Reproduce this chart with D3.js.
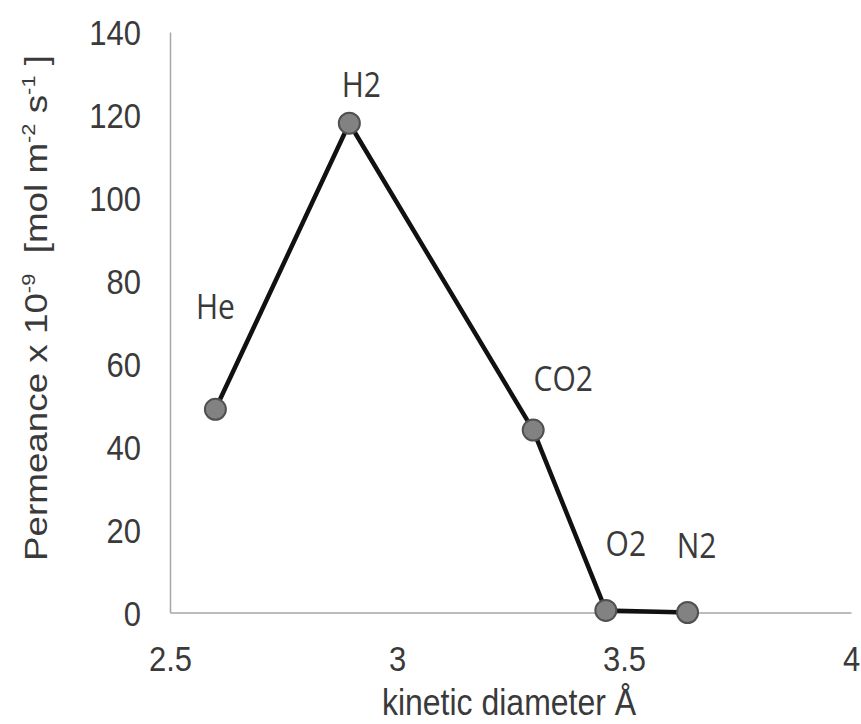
<!DOCTYPE html>
<html>
<head>
<meta charset="utf-8">
<script src="https://cdn.jsdelivr.net/npm/d3@7"></script>
<style>
  body { margin: 0; background: #fff; }
  svg { display: block; }
</style>
</head>
<body>
<svg id="chart"></svg>
<script>
const gases = ['He', 'H2', 'CO2', 'O2', 'N2']
const diameters = [2.6, 2.895, 3.3, 3.46, 3.64]
const permeance = [49, 118, 44, 0.5, 0]
const xTicks = [2.5, 3, 3.5, 4]
const yTicks = [0, 20, 40, 60, 80, 100, 120, 140]

// where each gas name sits relative to its point (baseline, px)
const labelOffsets = [[0, -90], [12, -26], [30, -39], [20, -54], [9, -55]]

const width = 861, height = 724
const margin = { top: 32, left: 170, bottom: 111.5, right: 10 }
const stretch = 1.15 // the source picture is a bit taller than wide

const svg = d3.select('#chart').attr('width', width).attr('height', height)

const x = d3.scaleLinear().domain([2.5, 4]).range([margin.left, width - margin.right])
const y = d3.scaleLinear().domain([0, 140]).range([height - margin.bottom, margin.top])

const textColor = '#3a3a3a'
const axisColor = '#a6a6a6'

// x axis
const gx = svg.append('g')
    .attr('transform', `translate(0,${y(0)})`)
    .call(d3.axisBottom(x).tickValues(xTicks).tickSize(0).tickFormat(d3.format('~g')))
gx.select('.domain').attr('stroke', axisColor).attr('stroke-width', 1.5)
gx.selectAll('text')
    .attr('y', 0).attr('dy', 0)
    .attr('transform', `translate(0,58) scale(1,${stretch})`)
    .attr('fill', textColor)
    .style('font', '31px "Liberation Sans", Arial, sans-serif')

// y axis
const gy = svg.append('g')
    .attr('transform', `translate(${x(2.5)},0)`)
    .call(d3.axisLeft(y).tickValues(yTicks).tickSize(0))
gy.select('.domain').attr('stroke', axisColor).attr('stroke-width', 1.5)
gy.selectAll('text')
    .attr('x', 0).attr('dy', '0.36em')
    .attr('transform', `translate(-29,0) scale(1,${stretch})`)
    .attr('fill', textColor)
    .style('font', '31px "Liberation Sans", Arial, sans-serif')

// line + markers
const pts = gases.map((g, i) => ({ gas: g, d: diameters[i], p: permeance[i], off: labelOffsets[i] }))

svg.append('path')
    .datum(pts)
    .attr('fill', 'none')
    .attr('stroke', '#111')
    .attr('stroke-width', 4.5)
    .attr('stroke-linejoin', 'round')
    .attr('d', d3.line().x(d => x(d.d)).y(d => y(d.p)))

svg.selectAll('circle.pt')
    .data(pts)
    .enter()
    .append('circle')
    .attr('class', 'pt')
    .attr('cx', d => x(d.d))
    .attr('cy', d => y(d.p))
    .attr('r', 10.5)
    .attr('fill', '#828282')
    .attr('stroke', '#505050')
    .attr('stroke-width', 2)

svg.selectAll('text.lbl')
    .data(pts)
    .enter()
    .append('text')
    .attr('class', 'lbl')
    .attr('text-anchor', 'middle')
    .attr('transform', d => `translate(${x(d.d) + d.off[0]},${y(d.p) + d.off[1]}) scale(1,${stretch})`)
    .attr('fill', textColor)
    .style('font', '30px "Open Sans", sans-serif')
    .text(d => d.gas)

// axis titles
svg.append('text')
    .attr('text-anchor', 'middle')
    .attr('transform', `translate(509,715) scale(1,${stretch})`)
    .attr('fill', textColor)
    .style('font', '32px "Liberation Sans", Arial, sans-serif')
    .text('kinetic diameter Å')

const yt = svg.append('text')
    .attr('text-anchor', 'middle')
    .attr('transform', `translate(47,308) scale(1,${stretch}) rotate(-90)`)
    .attr('fill', textColor)
    .style('font', '32px "Liberation Sans", Arial, sans-serif')
    .attr('xml:space', 'preserve')

const sup = (t) => yt.append('tspan').attr('dy', -12).style('font-size', '19px').text(t)
const norm = (t) => yt.append('tspan').attr('dy', 12).text(t)
yt.append('tspan').text('Permeance x 10')
sup('-9')
norm('  [mol m')
sup('-2')
norm(' s')
sup('-1')
norm(' ]')
</script>
</body>
</html>
